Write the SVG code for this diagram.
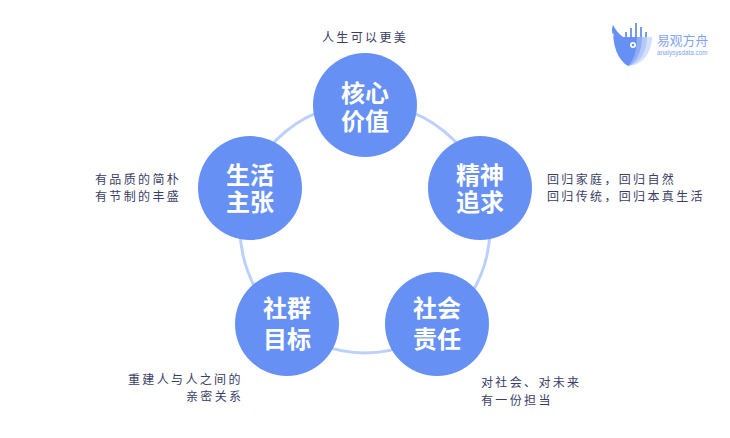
<svg xmlns="http://www.w3.org/2000/svg" width="730" height="438" viewBox="0 0 730 438">
<style>
.n{fill:#6690f4}
.t{font-family:"Noto Sans CJK SC","Liberation Sans",sans-serif;font-size:24px;font-weight:700;fill:#fff;text-anchor:middle}
.c{font-family:"Noto Sans CJK SC","Liberation Sans",sans-serif;font-size:12px;fill:#3a3d66;letter-spacing:2.35px}
</style>
<rect width="730" height="438" fill="#fff"/>
<g id="connectors"><circle cx="365" cy="228" r="125" fill="none" stroke="#bcd0fa" stroke-width="3"/></g>
<g id="core"><circle class="n" cx="365" cy="105" r="52"/><text class="t" x="365" y="102">核心<tspan x="365" dy="28">价值</tspan></text></g>
<g id="spirit"><circle class="n" cx="480" cy="188" r="52"/><text class="t" x="480" y="184">精神<tspan x="480" dy="27">追求</tspan></text></g>
<g id="duty"><circle class="n" cx="437" cy="324" r="52"/><text class="t" x="437" y="317">社会<tspan x="437" dy="31">责任</tspan></text></g>
<g id="community"><circle class="n" cx="287" cy="324" r="52"/><text class="t" x="287" y="317">社群<tspan x="287" dy="31">目标</tspan></text></g>
<g id="life"><circle class="n" cx="250" cy="188" r="52"/><text class="t" x="250" y="184">生活<tspan x="250" dy="27">主张</tspan></text></g>
<g id="captions">
<text class="c" x="322" y="42">人生可以更美</text>
<text class="c" x="547" y="184">回归家庭，回归自然</text>
<text class="c" x="547" y="201">回归传统，回归本真生活</text>
<text class="c" x="95" y="184">有品质的简朴</text>
<text class="c" x="95" y="201">有节制的丰盛</text>
<text class="c" x="128" y="384">重建人与人之间的</text>
<text class="c" x="186" y="401">亲密关系</text>
<text class="c" x="481" y="387">对社会、对未来</text>
<text class="c" x="481" y="405">有一份担当</text>
</g>
<g id="logo">
<path d="M628 66 C642 66 652 52 652 37 L630 37Z" fill="#d3e0fc"/>
<path d="M628 66 C639 64 647 52 647 37 L630 37Z" fill="#b4c9fa"/>
<path d="M628 66 C636 63 642 52 642 37 L630 37Z" fill="#8dadf7"/>
<path d="M613 25 C611 31 612 35 616 37 L637 37 C637 50 634 60 628 66 C618 60 612 46 613 25Z" fill="#6690f4"/>
<path d="M613 25 C616 30 618 33 623 37 L615 37 C612 33 612 29 613 25Z" fill="#6690f4"/>
<g stroke="#6690f4" stroke-width="1.8"><path d="M626 37V32M631 37V28M636 37V23M641 37V27M646 37V32"/></g>
<circle cx="633" cy="45" r="3" fill="#fff"/><circle cx="633" cy="45" r="1.3" fill="#6690f4"/>
<text x="657" y="45" font-family="'Noto Sans CJK SC',sans-serif" font-size="12.8" fill="#7fa3f7">易观方舟</text>
<text x="657" y="55" font-family="'Liberation Sans',sans-serif" font-size="6.3" fill="#7fa3f7">analysysdata.com</text>
</g>
</svg>
